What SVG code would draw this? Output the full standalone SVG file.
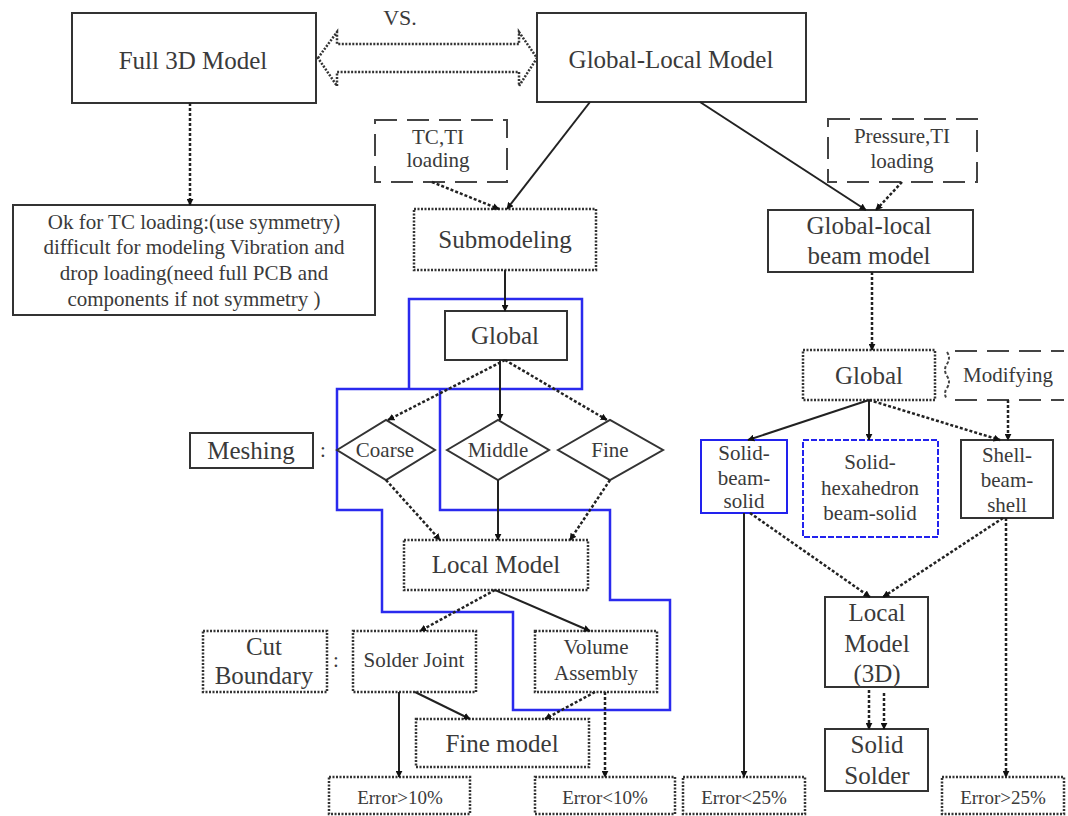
<svg xmlns="http://www.w3.org/2000/svg" width="1068" height="816" viewBox="0 0 1068 816" font-family="'Liberation Serif', 'DejaVu Serif', 'Times New Roman', serif">
<defs>
<marker id="ah" viewBox="0 0 10 10" refX="9" refY="5" markerWidth="7" markerHeight="7" orient="auto" markerUnits="userSpaceOnUse">
<path d="M0,0 L10,5 L0,10 z" fill="#111"/>
</marker>
<style>
text{font-family:'Liberation Serif','DejaVu Serif','Times New Roman',serif;fill:#3a3a3a;text-anchor:middle;dominant-baseline:central}
.box{fill:#fff;stroke:#333;stroke-width:2}
.dot{fill:#fff;stroke:#333;stroke-width:2.5;stroke-dasharray:2 1.5}
.dash{fill:none;stroke:#444;stroke-width:2;stroke-dasharray:22 10}
.blue{fill:#fff;stroke:#2222ee;stroke-width:2}
.c{fill:none;stroke:#222;stroke-width:2;marker-end:url(#ah)}
.cd{fill:none;stroke:#222;stroke-width:2.5;stroke-dasharray:3 2;marker-end:url(#ah)}
.big{font-size:25px}.t21{font-size:21px}.t19{font-size:19px}
</style>
</defs>
<rect width="1068" height="816" fill="#fff"/>

<g id="blue-outline">
<path d="M409,389 V299 H582 V389 H337 V510 H382 V612 H513 V710 H670 V600 H610 V510 H440 V389" fill="none" stroke="#2a2aee" stroke-width="2.5"/>
</g>

<g id="vs">
<polygon points="318,58 337,32 337,44 519,44 519,32 537,58 519,86 519,72 337,72 337,86" fill="#fff" stroke="#333" stroke-width="2.5" stroke-dasharray="2 1.5"/>
<text x="400" y="17" font-size="22">VS.</text>
</g>

<g id="full3d"><rect x="72" y="13" width="244" height="90" class="box"/><text x="193" y="60" class="big">Full 3D Model</text></g>
<g id="glm"><rect x="537" y="13" width="269" height="89" class="box"/><text x="671" y="59" class="big">Global-Local Model</text></g>
<g id="ok"><rect x="13" y="205" width="362" height="110" class="box"/>
<text x="194" y="222" class="t21">Ok for TC loading:(use symmetry)</text>
<text x="194" y="247" class="t21">difficult for modeling Vibration and</text>
<text x="194" y="273" class="t21">drop loading(need full PCB and</text>
<text x="194" y="299" class="t21">components if not symmetry )</text></g>
<g id="tcti"><rect x="375" y="120" width="132" height="62" class="dash"/><text x="438" y="137" class="t21">TC,TI</text><text x="438" y="160" class="t21">loading</text></g>
<g id="submodeling"><rect x="414" y="209" width="182" height="61" class="dot"/><text x="505" y="239" class="big">Submodeling</text></g>
<g id="pressure"><rect x="828" y="119" width="149" height="63" class="dash"/><text x="902" y="136" class="t21">Pressure,TI</text><text x="902" y="161" class="t21">loading</text></g>
<g id="beam"><rect x="768" y="210" width="205" height="62" class="box"/><text x="869" y="225" class="big">Global-local</text><text x="869" y="255" class="big">beam model</text></g>
<g id="globalL"><rect x="445" y="311" width="122" height="49" class="box"/><text x="505" y="335" class="big">Global</text></g>
<g id="meshing"><rect x="190" y="433" width="123" height="35" class="box"/><text x="251" y="450" class="big">Meshing</text><text x="323" y="450" class="t21">:</text></g>
<g id="coarse"><polygon points="337,450 386,420 435,450 386,480" class="box"/><text x="385" y="450" class="t21">Coarse</text></g>
<g id="middle"><polygon points="447,450 498,420 549,450 498,480" class="box"/><text x="498" y="450" class="t21">Middle</text></g>
<g id="fine"><polygon points="558,450 610,420 663,450 610,480" class="box"/><text x="610" y="450" class="t21">Fine</text></g>
<g id="localmodel"><rect x="404" y="540" width="184" height="50" class="dot"/><text x="496" y="564" class="big">Local Model</text></g>
<g id="cut"><rect x="203" y="631" width="124" height="61" class="dot"/><text x="264" y="646" class="big">Cut</text><text x="264" y="675" class="big">Boundary</text><text x="336" y="660" class="t21">:</text></g>
<g id="solderjoint"><rect x="353" y="631" width="123" height="61" class="dot"/><text x="414" y="660" class="t21">Solder Joint</text></g>
<g id="volume"><rect x="535" y="631" width="122" height="61" class="dot"/><text x="596" y="647" class="t21">Volume</text><text x="596" y="673" class="t21">Assembly</text></g>
<g id="finemodel"><rect x="416" y="719" width="173" height="48" class="dot"/><text x="502" y="743" class="big">Fine model</text></g>
<g id="err10a"><rect x="329" y="777" width="141" height="37" class="dot"/><text x="400" y="797" class="t19">Error&gt;10%</text></g>
<g id="err10b"><rect x="535" y="777" width="140" height="37" class="dot"/><text x="605" y="797" class="t19">Error&lt;10%</text></g>
<g id="globalR"><rect x="803" y="350" width="132" height="50" class="dot"/><text x="869" y="375" class="big">Global</text></g>
<g id="modifying"><path d="M947,352 q4,6 0,12 q-4,6 0,12 q4,6 0,12 q-4,6 0,11" fill="none" stroke="#444" stroke-width="2" stroke-dasharray="3 2"/><path d="M955,351 H1064 M955,400 H1064" fill="none" stroke="#444" stroke-width="2" stroke-dasharray="22 10"/><text x="1008" y="375" class="t21">Modifying</text></g>
<g id="sbs"><rect x="701" y="440" width="86" height="73" class="blue"/><text x="744" y="453" class="t21">Solid-</text><text x="744" y="478" class="t21">beam-</text><text x="744" y="501" class="t21">solid</text></g>
<g id="shbs"><rect x="803" y="440" width="135" height="97" class="blue" stroke-dasharray="6 2"/><text x="870" y="462" class="t21">Solid-</text><text x="870" y="488" class="t21">hexahedron</text><text x="870" y="513" class="t21">beam-solid</text></g>
<g id="shell"><rect x="961" y="440" width="92" height="78" class="box"/><text x="1007" y="455" class="t21">Shell-</text><text x="1007" y="480" class="t21">beam-</text><text x="1007" y="505" class="t21">shell</text></g>
<g id="local3d"><rect x="825" y="597" width="103" height="90" class="box"/><text x="877" y="612" class="big">Local</text><text x="877" y="643" class="big">Model</text><text x="877" y="673" class="big">(3D)</text></g>
<g id="solder"><rect x="825" y="729" width="103" height="62" class="box"/><text x="877" y="744" class="big">Solid</text><text x="877" y="775" class="big">Solder</text></g>
<g id="err25a"><rect x="683" y="777" width="122" height="37" class="dot"/><text x="744" y="797" class="t19">Error&lt;25%</text></g>
<g id="err25b"><rect x="942" y="777" width="122" height="37" class="dot"/><text x="1003" y="797" class="t19">Error&gt;25%</text></g>

<g id="connectors">
<path d="M190,103 V205" class="cd"/>
<path d="M590,102 L507,209" class="c"/>
<path d="M432,182 L499,209" class="cd"/>
<path d="M700,102 L866,210" class="c"/>
<path d="M902,182 L876,210" class="cd"/>
<path d="M872,272 V350" class="cd"/>
<path d="M505,270 V311" class="c"/>
<path d="M505,360 L388,420" class="cd"/>
<path d="M500,360 V420" class="c"/>
<path d="M505,360 L607,420" class="cd"/>
<path d="M386,480 L440,540" class="cd"/>
<path d="M498,480 V540" class="c"/>
<path d="M610,480 L570,540" class="cd"/>
<path d="M495,590 L420,631" class="cd"/>
<path d="M495,590 L590,631" class="c"/>
<path d="M399,692 V777" class="c"/>
<path d="M415,692 L470,719" class="c"/>
<path d="M595,692 L545,719" class="cd"/>
<path d="M605,692 V777" class="cd"/>
<path d="M869,400 L748,440" class="c"/>
<path d="M869,400 V440" class="c"/>
<path d="M869,400 L1000,440" class="cd"/>
<path d="M1008,400 V440" class="cd"/>
<path d="M744,513 V777" class="c"/>
<path d="M750,513 L870,597" class="cd"/>
<path d="M1003,518 L883,597" class="cd"/>
<path d="M1006,518 V777" class="cd"/>
<path d="M869,690 V729" class="cd"/>
<path d="M884,693 V729" class="cd"/>
</g>
</svg>
